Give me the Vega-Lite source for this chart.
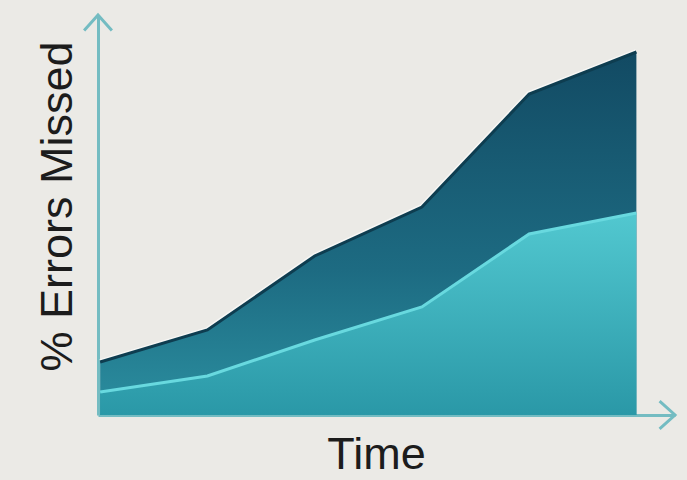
{
  "$schema": "https://vega.github.io/schema/vega-lite/v6.json",
  "autosize": "none",
  "width": 577,
  "height": 400,
  "padding": {"left": 98, "top": 15, "right": 12, "bottom": 65},
  "background": "#ebeae6",
  "config": {"view": {"stroke": null}, "font": "Liberation Sans"},
  "data": {"values": [
    {"t": 0, "upper": 13.25, "lower": 5.75},
    {"t": 1, "upper": 21.25, "lower": 9.75},
    {"t": 2, "upper": 39.75, "lower": 18.75},
    {"t": 3, "upper": 52, "lower": 27},
    {"t": 4, "upper": 80.25, "lower": 45.25},
    {"t": 5, "upper": 90.75, "lower": 50.5}
  ]},
  "encoding": {
    "x": {"field": "t", "type": "quantitative",
      "scale": {"domain": [-0.02, 5.36], "nice": false, "zero": false},
      "axis": {"title": "Time", "labels": false, "ticks": false, "grid": false,
        "domainColor": "#74bcc2", "domainWidth": 3,
        "titleFontSize": 45, "titleFontWeight": "normal", "titleColor": "#1c1c1c",
        "titlePadding": 17, "titleX": 278}}
  },
  "layer": [
    {
      "mark": {"type": "line", "stroke": "#ffffff", "strokeWidth": 6, "opacity": 0.6},
      "encoding": {"y": {"field": "upper", "type": "quantitative",
        "scale": {"domain": [0, 100], "nice": false},
        "axis": {"title": "% Errors Missed", "labels": false, "ticks": false, "grid": false,
          "domainColor": "#74bcc2", "domainWidth": 3,
          "titleFontSize": 45, "titleFontWeight": "normal", "titleColor": "#1c1c1c",
          "titlePadding": 18, "titleY": 191}}}
    },
    {
      "mark": {"type": "area", "color": {"gradient": "linear", "x1": 0, "y1": 0, "x2": 0, "y2": 1,
        "stops": [{"offset": 0, "color": "#124a63"}, {"offset": 0.6, "color": "#1d6b82"}, {"offset": 1, "color": "#2b8fa0"}]}},
      "encoding": {"y": {"field": "upper", "type": "quantitative"}}
    },
    {
      "mark": {"type": "line", "stroke": "#0e3d50", "strokeWidth": 3},
      "encoding": {"y": {"field": "upper", "type": "quantitative"}}
    },
    {
      "mark": {"type": "area", "color": {"gradient": "linear", "x1": 0, "y1": 0, "x2": 0, "y2": 1,
        "stops": [{"offset": 0, "color": "#52c8d0"}, {"offset": 1, "color": "#2a98a7"}]}},
      "encoding": {"y": {"field": "lower", "type": "quantitative"}}
    },
    {
      "mark": {"type": "line", "stroke": "#68d9df", "strokeWidth": 3},
      "encoding": {"y": {"field": "lower", "type": "quantitative"}}
    },
    {
      "data": {"values": [{"t": 5.36, "v": 0, "dir": "x"}, {"t": -0.02, "v": 100, "dir": "y"}]},
      "mark": {"type": "point", "filled": false, "strokeWidth": 3, "size": 950, "opacity": 1, "clip": false},
      "encoding": {
        "y": {"field": "v", "type": "quantitative"},
        "shape": {"field": "dir", "type": "nominal", "legend": null,
          "scale": {"domain": ["x", "y"], "range": ["M-1,-0.9L0,0L-1,0.9", "M-0.9,1L0,0L0.9,1"]}},
        "color": {"value": "#74bcc2"}
      }
    }
  ]
}
